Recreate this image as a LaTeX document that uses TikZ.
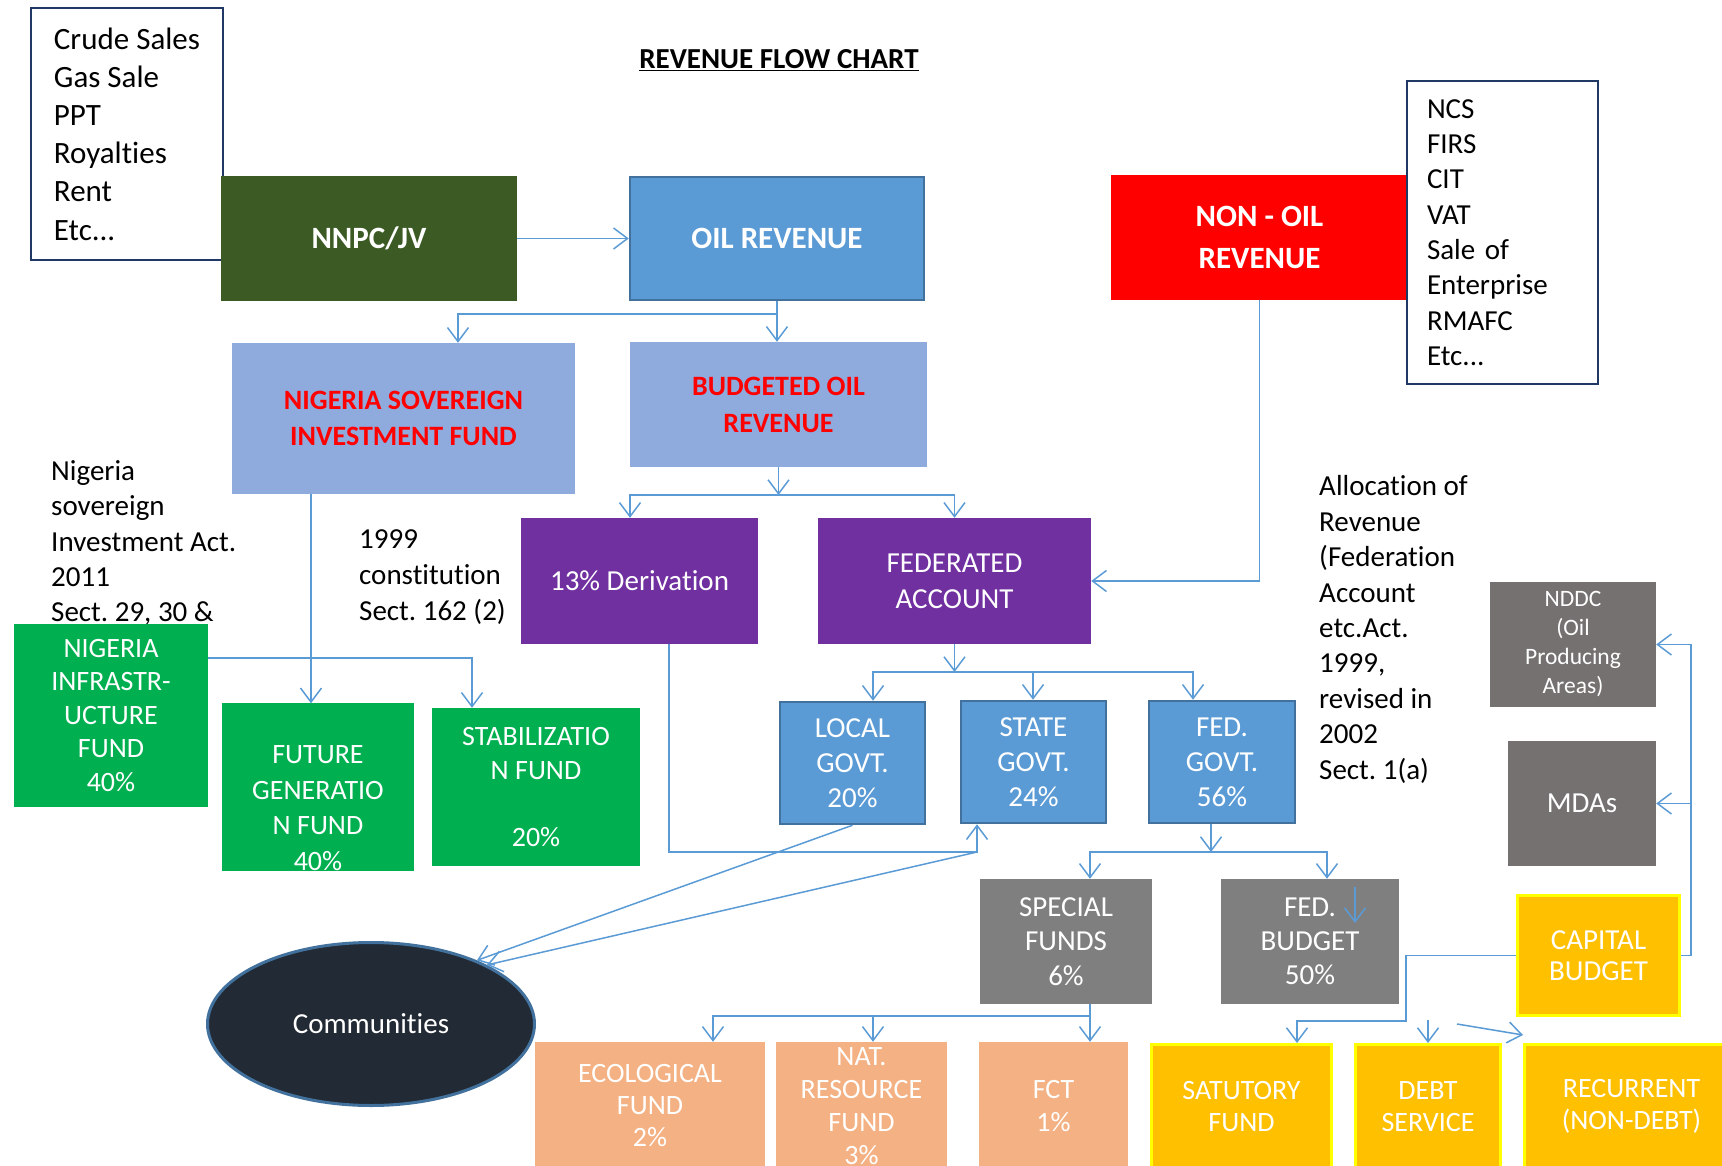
\documentclass[tikz,border=0pt]{standalone}
\usepackage{fontspec}
\setmainfont{Carlito}[Ligatures=NoCommon]
\frenchspacing
\usetikzlibrary{arrows.meta,shapes.geometric}
\definecolor{lineblue}{HTML}{5B9BD5}
\definecolor{boxblue}{HTML}{5B9BD5}
\definecolor{bordblue}{HTML}{41719C}
\definecolor{nnpcgreen}{HTML}{3C5A24}
\definecolor{lightblue}{HTML}{8FAADC}
\definecolor{purp}{HTML}{7030A0}
\definecolor{greenbox}{HTML}{00B050}
\definecolor{grayone}{HTML}{767171}
\definecolor{graytwo}{HTML}{7F7F7F}
\definecolor{gold}{HTML}{FFC000}
\definecolor{yel}{HTML}{FFFF00}
\definecolor{peach}{HTML}{F4B183}
\definecolor{navy}{HTML}{1F3864}
\definecolor{commfill}{HTML}{222A35}
\newcommand\fsz[2]{\fontsize{#1}{#2}\selectfont}
\begin{document}
\begin{tikzpicture}[x=1pt,y=-1pt,
  bx/.style={rectangle, inner sep=0pt, align=center, text=white},
  listbox/.style={rectangle, draw=navy, line width=2.5pt, fill=white, inner sep=0pt, align=left, text=black},
  note/.style={anchor=west, inner sep=0pt, align=left, text=black},
  conn/.style={draw=lineblue, line width=1.5pt},
  arr/.style={-{Straight Barb[length=14pt,width=21pt,line width=1.5pt]}},
]
\useasboundingbox (0,0) rectangle (1722,1166);
\clip (0,0) rectangle (1722,1166);

% annotations (drawn first, boxes may cover them)
\node[note, font=\fsz{29}{35.3}] (nsa) at (51,543) {Nigeria\\sovereign\\Investment Act.\\2011\\Sect. 29, 30 \&};
\node[note, font=\fsz{29}{36}] (con) at (359,577) {1999\\constitution\\Sect. 162 (2)};
\node[note, font=\fsz{29}{35.4}] (alloc) at (1319,629.5) {Allocation of\\Revenue\\(Federation\\Account\\etc.Act.\\1999,\\revised in\\2002\\Sect. 1(a)};

% title
\node[inner sep=0pt, font=\bfseries\fsz{29}{35}] (title) at (779,60) {\underline{REVENUE FLOW CHART}};

% boxes
\node[listbox, minimum width=192pt, minimum height=252pt, font=\fsz{31}{38.2}] (crude) at (127,134) {Crude Sales\\Gas Sale\\PPT\\Royalties\\Rent\\Etc...};
\node[bx, fill=nnpcgreen, minimum width=296pt, minimum height=125pt, font=\bfseries\fsz{31}{38}] (nnpc) at (369,238.5) {NNPC/JV};
\node[bx, fill=boxblue, draw=bordblue, line width=2.5pt, minimum width=294pt, minimum height=123pt, font=\bfseries\fsz{31}{38}] (oil) at (777,238.5) {OIL REVENUE};
\node[bx, fill=red, minimum width=297pt, minimum height=125pt, font=\bfseries\fsz{31}{42}] (nonoil) at (1259.5,237.5) {NON - OIL\\REVENUE};
\node[listbox, minimum width=191pt, minimum height=303pt, text width=151pt, inner xsep=20pt, font=\fsz{29}{35.3}] (ncs) at (1502.5,232.5) {NCS\\FIRS\\CIT\\VAT\\Sale of\\Enterprise\\RMAFC\\Etc...};

\node[bx, fill=lightblue, text=red, minimum width=343pt, minimum height=151pt, font=\bfseries\fsz{28}{36}] (nsif) at (403.5,418.5) {NIGERIA SOVEREIGN\\INVESTMENT FUND};
\node[bx, fill=lightblue, text=red, minimum width=297pt, minimum height=125pt, font=\bfseries\fsz{28}{37}] (bud) at (778.5,404.5) {BUDGETED OIL\\REVENUE};

\node[bx, fill=purp, minimum width=237pt, minimum height=126pt, font=\fsz{29}{36}] (der) at (639.5,581) {13\% Derivation};
\node[bx, fill=purp, minimum width=273pt, minimum height=126pt, font=\fsz{29}{36}] (fed) at (954.5,581) {FEDERATED\\ACCOUNT};

\node[bx, fill=greenbox, minimum width=194pt, minimum height=183pt, font=\fsz{28}{33.5}] (infra) at (111,715.5) {NIGERIA\\INFRASTR-\\UCTURE\\FUND\\40\%};
\node[bx, fill=greenbox, minimum width=192pt, minimum height=158pt, font=\fsz{28}{35.5}] (fut) at (318,787) {\strut\\FUTURE\\GENERATIO\\N FUND\\40\%};
\node[bx, fill=greenbox, minimum width=208pt, minimum height=158pt, font=\fsz{28}{33.7}] (stab) at (536,787) {STABILIZATIO\\N FUND\\\strut\\20\%};

\node[bx, fill=boxblue, draw=bordblue, line width=2.5pt, minimum width=145pt, minimum height=122pt, font=\fsz{29}{35}] (lg) at (852.5,763) {LOCAL\\GOVT.\\20\%};
\node[bx, fill=boxblue, draw=bordblue, line width=2.5pt, minimum width=145pt, minimum height=122pt, font=\fsz{29}{35}] (sg) at (1033.5,762) {STATE\\GOVT.\\24\%};
\node[bx, fill=boxblue, draw=bordblue, line width=2.5pt, minimum width=146pt, minimum height=122pt, font=\fsz{29}{35}] (fg) at (1222,762) {FED.\\GOVT.\\56\%};

\node[bx, fill=grayone, minimum width=166pt, minimum height=125pt, font=\fsz{23.5}{29}] (nddc) at (1573,644.5) {NDDC\\(Oil\\Producing\\Areas)};
\node[bx, fill=grayone, minimum width=148pt, minimum height=125pt, font=\fsz{29}{35}] (mda) at (1582,803.5) {MDAs};

\node[bx, fill=graytwo, minimum width=172pt, minimum height=125pt, font=\fsz{29}{34.5}] (sf) at (1066,941.5) {SPECIAL\\FUNDS\\6\%};
\node[bx, fill=graytwo, minimum width=178pt, minimum height=125pt, font=\fsz{29}{34}] (fb) at (1310,941.5) {FED.\\BUDGET\\50\%};
\node[bx, fill=gold, draw=yel, line width=3pt, minimum width=162pt, minimum height=120pt, font=\fsz{29}{31}] (cap) at (1598.5,955.5) {CAPITAL\\BUDGET};

\node[ellipse, fill=commfill, draw=bordblue, line width=3pt, inner sep=0pt, minimum width=327pt, minimum height=163pt, text=white, font=\fsz{29}{35}] (comm) at (371,1024) {Communities};

\node[bx, fill=peach, minimum width=230pt, minimum height=128pt, font=\fsz{28}{32}] (eco) at (650,1106) {ECOLOGICAL\\FUND\\2\%};
\node[bx, fill=peach, minimum width=171pt, minimum height=128pt, font=\fsz{28}{33}] (nat) at (861.5,1106) {NAT.\\RESOURCE\\FUND\\3\%};
\node[bx, fill=peach, minimum width=149pt, minimum height=128pt, font=\fsz{28}{33}] (fct) at (1053.5,1106) {FCT\\1\%};
\node[bx, fill=gold, draw=yel, line width=3pt, minimum width=180pt, minimum height=124pt, font=\fsz{28}{32}] (sat) at (1241.5,1106.5) {SATUTORY\\FUND};
\node[bx, fill=gold, draw=yel, line width=3pt, minimum width=145pt, minimum height=124pt, font=\fsz{28}{32}] (debt) at (1428,1106.5) {DEBT\\SERVICE};
\node[bx, fill=gold, draw=yel, line width=3pt, minimum width=214pt, minimum height=124pt, font=\fsz{28}{32}] (rec) at (1631.5,1106.5) {RECURRENT\\(NON-DEBT)};

% junction coordinates
\coordinate (j1) at (777,314);
\coordinate (j2) at (778.5,495);
\coordinate (j3) at (954.5,672);
\coordinate (j3s) at (1033,672);
\coordinate (j4) at (1211,852);
\coordinate (j5) at (1090,1016);
\coordinate (j5n) at (873,1016);
\coordinate (j6) at (977,852);
\coordinate (capr) at (1691,955.5);
\coordinate (fbs) at (1355,887);
\coordinate (fbe) at (1355,923);
\coordinate (ds) at (1428,1020);
\coordinate (sls) at (1457,1024);
\coordinate (sle) at (1523,1035);

% connectors
\draw[conn,arr] (nnpc.east) -- (oil.west);
\draw[conn] (oil.south) -- (j1);
\draw[conn,arr] (j1) -| (458,0 |- nsif.north);
\draw[conn,arr] (j1) -- (j1 |- bud.north);
\draw[conn,arr] (bud.south) -- (j2);
\draw[conn,arr] (j2) -| (630,0 |- der.north);
\draw[conn,arr] (j2) -| (fed.north);
\draw[conn,arr] (nonoil.south) |- (fed.east);
\draw[conn,arr] (fed.south) -- (j3);
\draw[conn,arr] (j3) -| (873,0 |- lg.north);
\draw[conn,arr] (j3) -| (1193,0 |- fg.north);
\draw[conn,arr] (j3s) -- (j3s |- sg.north);
\draw[conn,arr] (1211,0 |- fg.south) -- (j4);
\draw[conn,arr] (j4) -| (1090,0 |- sf.north);
\draw[conn,arr] (j4) -| (1327,0 |- fb.north);
\draw[conn,arr] (fbs) -- (fbe);
\draw[conn,arr] (1090,0 |- sf.south) -- (1090,0 |- fct.north);
\draw[conn,arr] (j5) -| (713,0 |- eco.north);
\draw[conn,arr] (j5n) -- (j5n |- nat.north);
\draw[conn] (cap.east) -- (capr);
\draw[conn,arr] (capr) |- (nddc.east);
\draw[conn,arr] (mda.east -| capr) -- (mda.east);
\draw[conn,arr] (cap.west) -| (1406,1021) -| (1297,0 |- sat.north);
\draw[conn,arr] (ds) -- (ds |- debt.north);
\draw[conn,arr] (sls) -- (sle);
\draw[conn,arr] (669,0 |- der.south) |- (j6) -- (j6 |- sg.south);
\draw[conn,arr] (lg.south) -- (comm.31);
\draw[conn,arr] (j6) -- (comm.27);
\draw[conn,arr] (311,0 |- nsif.south) -- (311,0 |- fut.north);
\draw[conn,arr] (infra.east |- 0,658) -| (472,0 |- stab.north);
\end{tikzpicture}
\end{document}
